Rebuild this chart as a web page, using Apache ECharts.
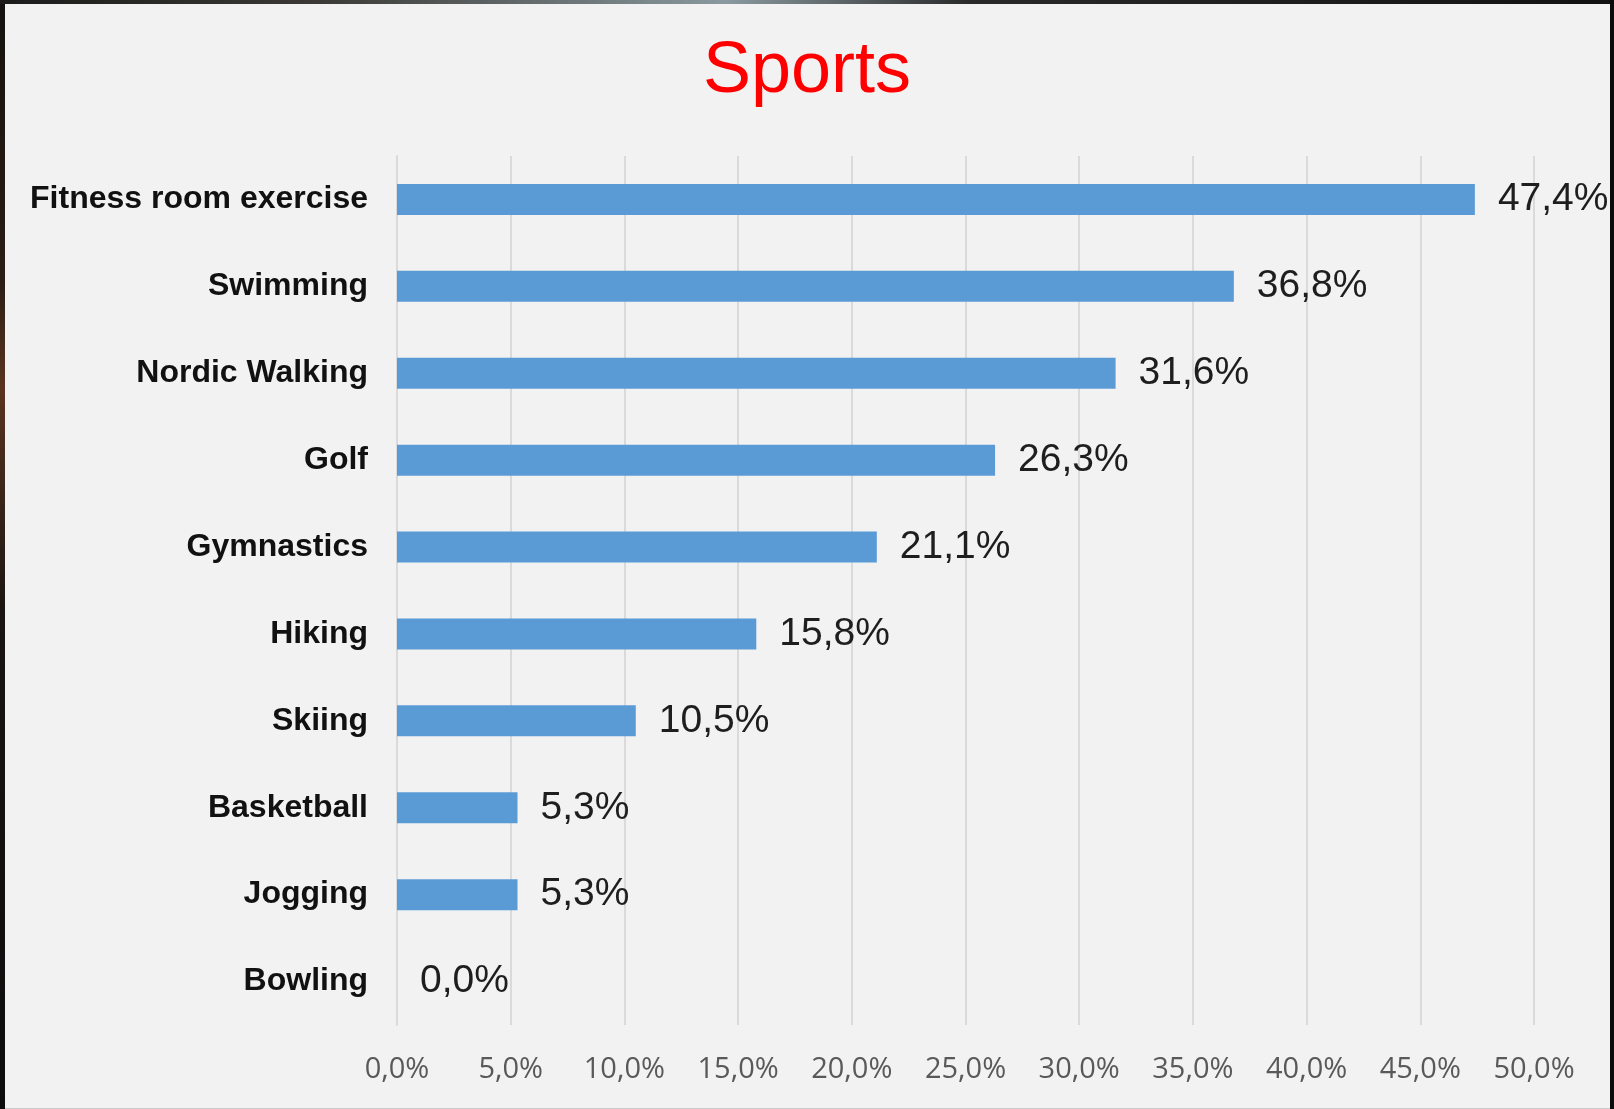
<!DOCTYPE html>
<html>
<head>
<meta charset="utf-8">
<title>Sports</title>
<script src="https://cdn.jsdelivr.net/npm/echarts@6/dist/echarts.min.js"></script>
<style>
  html, body { margin: 0; padding: 0; }
  body {
    width: 1614px; height: 1109px; overflow: hidden; position: relative;
    background: linear-gradient(180deg, #15120f 0%, #2a1d14 25%, #5a3420 35%, #1a1512 55%, #0d0d0d 100%);
  }
  #panel {
    position: absolute; left: 5px; top: 4px; width: 1605px; height: 1104px;
    background: #f2f2f2; border-bottom: 1px solid #c9c9c9;
  }
  #frameR { position: absolute; left: 1610px; top: 0; width: 4px; height: 1109px; background: #0b0b0b; }
  #frameT { position: absolute; left: 0; top: 0; width: 1614px; height: 4px;
    background: linear-gradient(90deg, #1b1b1b 0%, #3b3a36 20%, #8a9aa0 45%, #2a2a2a 60%, #121212 100%); }
  #chart { position: absolute; left: 0; top: 0; width: 1614px; height: 1109px; }
</style>
</head>
<body>
<div id="frameT"></div>
<div id="panel"></div>
<div id="frameR"></div>
<div id="chart"></div>
<script>
// Share of respondents practising each sport (percent)
const categories = [
  'Fitness room exercise', 'Swimming', 'Nordic Walking', 'Golf', 'Gymnastics',
  'Hiking', 'Skiing', 'Basketball', 'Jogging', 'Bowling'
];
const values = [47.4, 36.8, 31.6, 26.3, 21.1, 15.8, 10.5, 5.3, 5.3, 0.0];
const axisTicks = [0, 5, 10, 15, 20, 25, 30, 35, 40, 45, 50];

const pct = v => Number(v).toFixed(1).replace('.', ',') + '%';

const chart = echarts.init(document.getElementById('chart'), null, { renderer: 'canvas' });
chart.setOption({
  backgroundColor: 'transparent',
  animation: false,
  title: {
    text: 'Sports',
    left: 'center',
    top: 31,
    textStyle: {
      color: '#ff0000',
      fontFamily: 'Liberation Sans, Arial, sans-serif',
      fontSize: 72,
      fontWeight: 'normal'
    }
  },
  grid: { left: 397, right: 80, top: 156, bottom: 84, containLabel: false },
  xAxis: {
    type: 'value',
    min: axisTicks[0],
    max: axisTicks[axisTicks.length - 1],
    interval: axisTicks[1] - axisTicks[0],
    axisLine: { show: false },
    axisTick: { show: false },
    splitLine: { show: true, lineStyle: { color: '#dadada', width: 2 } },
    axisLabel: {
      margin: 30,
      color: '#595959',
      fontFamily: 'Open Sans, sans-serif',
      fontSize: 29,
      formatter: pct
    }
  },
  yAxis: {
    type: 'category',
    inverse: true,
    data: categories,
    axisLine: { show: true, lineStyle: { color: '#dadada', width: 2 } },
    axisTick: { show: false },
    splitLine: { show: false },
    axisLabel: {
      margin: 29,
      color: '#111111',
      fontFamily: 'Liberation Sans, Arial, sans-serif',
      fontWeight: 'bold',
      fontSize: 32
    }
  },
  series: [{
    type: 'bar',
    data: values,
    barWidth: 31,
    itemStyle: { color: '#5b9bd5' },
    label: {
      show: true,
      position: 'right',
      distance: 23,
      color: '#1e1e1e',
      fontFamily: 'Liberation Sans, Arial, sans-serif',
      fontSize: 39,
      formatter: p => pct(p.value)
    }
  }]
});
</script>
</body>
</html>
